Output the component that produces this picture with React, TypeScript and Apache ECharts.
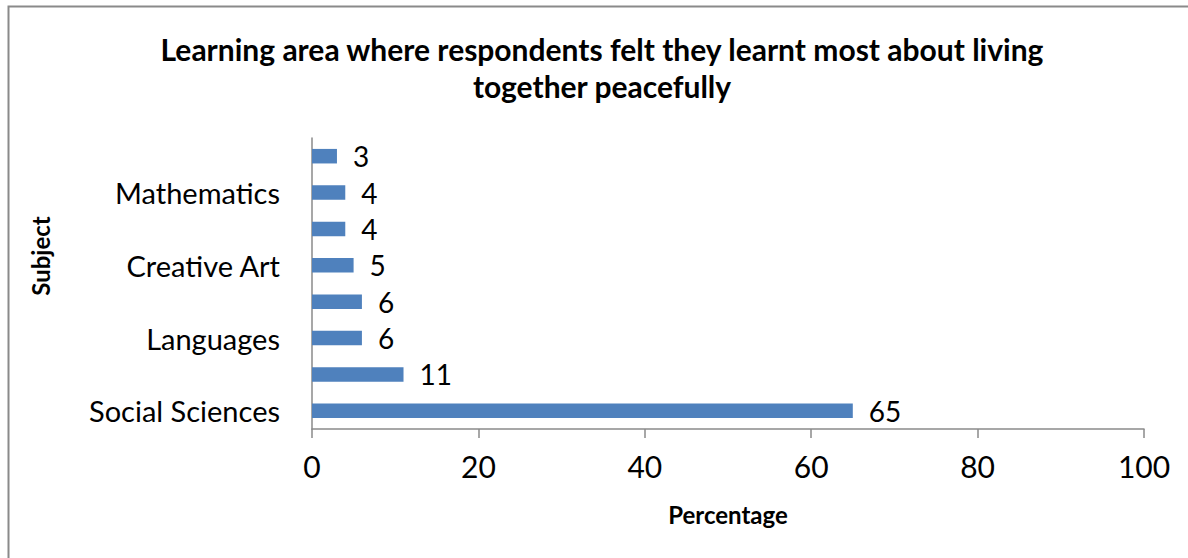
import React, { useEffect, useRef } from "react";
import * as echarts from "echarts";

const titleText = "Learning area where respondents felt they learnt most about living\ntogether peacefully";
const categories = ["Social Sciences", "", "Languages", "", "Creative Art", "", "Mathematics", ""];
const values = [65, 11, 6, 6, 5, 4, 4, 3];
const xTicks = { min: 0, max: 100, interval: 20 };
const xAxisName = "Percentage";
const yAxisName = "Subject";

const FONT = "Lato, 'Open Sans', sans-serif";

export default function App() {
  const ref = useRef<HTMLDivElement>(null);
  useEffect(() => {
    if (!ref.current) return;
    const chart = echarts.init(ref.current, undefined, { renderer: "svg" });
    chart.setOption({
      animation: false,
      backgroundColor: "#ffffff",
      textStyle: { fontFamily: FONT },
      title: {
        text: titleText,
        left: 597,
        top: 25,
        textAlign: "center",
        textStyle: { fontFamily: FONT, fontWeight: "bold", fontSize: 30, lineHeight: 37, color: "#000" },
      },
      graphic: [
        {
          type: "rect",
          shape: { x: 8.5, y: 6.5, width: 1200, height: 600 },
          style: { fill: "none", stroke: "#8a8a8a", lineWidth: 2 },
          silent: true,
        },
        {
          type: "text",
          x: 40,
          y: 256,
          rotation: Math.PI / 2,
          style: {
            text: yAxisName,
            fontFamily: FONT,
            fontWeight: "bold",
            fontSize: 24,
            fill: "#000",
            textAlign: "center",
            textVerticalAlign: "middle",
          },
        },
      ],
      grid: { left: 312, right: 44, top: 138, bottom: 129, containLabel: false },
      xAxis: {
        type: "value",
        min: xTicks.min,
        max: xTicks.max,
        interval: xTicks.interval,
        name: xAxisName,
        nameLocation: "middle",
        nameGap: 73,
        nameTextStyle: { fontFamily: FONT, fontWeight: "bold", fontSize: 24, color: "#000" },
        axisLine: { show: true, lineStyle: { color: "#8a8a8a", width: 1.5 } },
        axisTick: { show: true, length: 9, lineStyle: { color: "#8a8a8a", width: 1.5 } },
        axisLabel: { fontFamily: FONT, fontSize: 30, color: "#000", margin: 22 },
        splitLine: { show: false },
      },
      yAxis: {
        type: "category",
        data: categories,
        axisLine: { show: true, lineStyle: { color: "#8a8a8a", width: 1.5 } },
        axisTick: { show: false },
        axisLabel: { fontFamily: FONT, fontSize: 29, color: "#000", margin: 32, interval: 0 },
        splitLine: { show: false },
      },
      series: [
        {
          type: "bar",
          data: values,
          barCategoryGap: "60%",
          itemStyle: { color: "#4f81bd" },
          label: {
            show: true,
            position: "right",
            distance: 16,
            fontFamily: FONT,
            fontSize: 28,
            color: "#000",
          },
        },
      ],
    });
    return () => chart.dispose();
  }, []);
  return (
    <div
      ref={ref}
      style={{ position: "fixed", left: 0, top: 0, width: 1188, height: 558 }}
    />
  );
}
